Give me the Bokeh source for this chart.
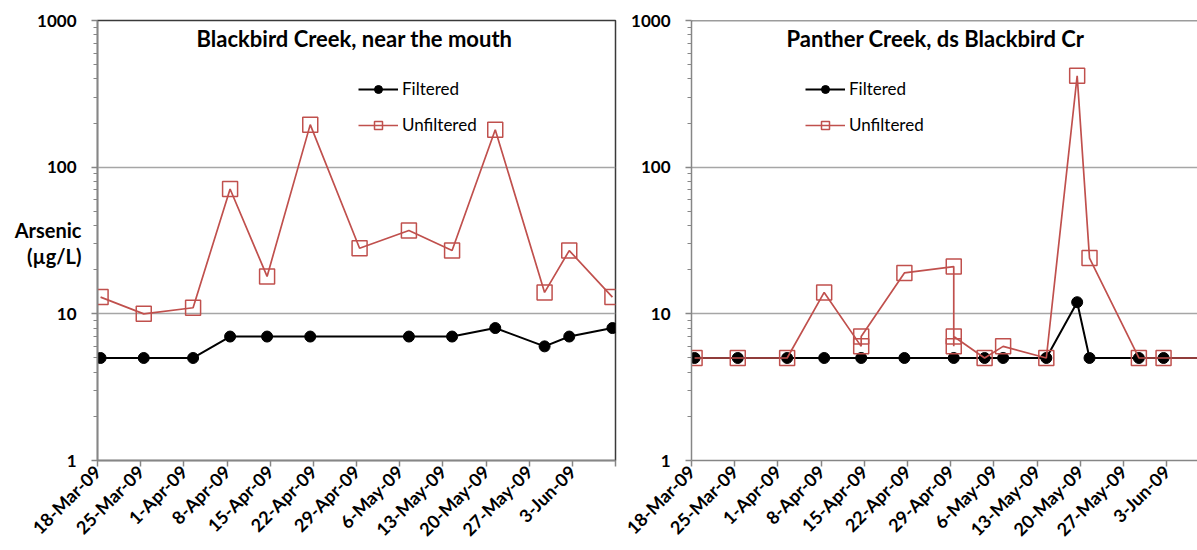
import math
import pandas as pd
from bokeh.plotting import figure
from bokeh.layouts import row
from bokeh.models import (Range1d, FixedTicker, PrintfTickFormatter, Label, Legend,
                          LegendItem, Span, LogAxis)
from bokeh.embed import file_html
from bokeh.resources import INLINE

# ---------------- data ----------------
bb_title = "Blackbird Creek, near the mouth"
pc_title = "Panther Creek, ds Blackbird Cr"

bb_filt_dates = ["2009-03-18", "2009-03-25", "2009-04-02", "2009-04-08", "2009-04-14",
                 "2009-04-21", "2009-05-07", "2009-05-14", "2009-05-21", "2009-05-29",
                 "2009-06-02", "2009-06-09"]
bb_filt = [5, 5, 5, 7, 7, 7, 7, 7, 8, 6, 7, 8]

bb_unf_dates = ["2009-03-18", "2009-03-25", "2009-04-02", "2009-04-08", "2009-04-14",
                "2009-04-21", "2009-04-29", "2009-05-07", "2009-05-14", "2009-05-21",
                "2009-05-29", "2009-06-02", "2009-06-09"]
bb_unf = [13, 10, 11, 71, 18, 195, 28, 37, 27, 180, 14, 27, 13]

pc_filt_dates = ["2009-03-18", "2009-03-25", "2009-04-02", "2009-04-08", "2009-04-14",
                 "2009-04-21", "2009-04-29", "2009-05-04", "2009-05-07", "2009-05-14",
                 "2009-05-19", "2009-05-21", "2009-05-29", "2009-06-02", "2009-06-09"]
pc_filt = [5, 5, 5, 5, 5, 5, 5, 5, 5, 5, 12, 5, 5, 5, 5]

pc_unf_dates = ["2009-03-18", "2009-03-25", "2009-04-02", "2009-04-08", "2009-04-14",
                "2009-04-14", "2009-04-21", "2009-04-29", "2009-04-29", "2009-04-29",
                "2009-05-04", "2009-05-07", "2009-05-14", "2009-05-19", "2009-05-21",
                "2009-05-29", "2009-06-02", "2009-06-09"]
pc_unf = [5, 5, 5, 14, 6, 7, 19, 21, 6, 7, 5, 6, 5, 420, 24, 5, 5, 5]

tick_dates = ["2009-03-18", "2009-03-25", "2009-04-01", "2009-04-08", "2009-04-15",
              "2009-04-22", "2009-04-29", "2009-05-06", "2009-05-13", "2009-05-20",
              "2009-05-27", "2009-06-03", "2009-06-10"]
tick_labels = ["18-Mar-09", "25-Mar-09", "1-Apr-09", "8-Apr-09", "15-Apr-09",
               "22-Apr-09", "29-Apr-09", "6-May-09", "13-May-09", "20-May-09",
               "27-May-09", "3-Jun-09", ""]

y_ticks = [1, 10, 100, 1000]
series_names = ["Filtered", "Unfiltered"]
y_label_lines = ["Arsenic", "(\u00b5g/L)"]
# heights (in axis units) at which the two lines of the y label sit
y_label_at = [37.1, 24.6]

# ---------------- style ----------------
FONT = "Lato"
RED = "#C0504D"
AXIS_GREY = "#868686"
GRID_GREY = "#A6A6A6"
BORDER = "#3A3A3A"


def to_x(dates):
    # Excel date axis: points sit in the middle of the day
    return pd.to_datetime(dates) + pd.Timedelta(hours=12)


def ms(d):
    return pd.Timestamp(d).timestamp() * 1000.0


def make_fig(width, left_border, right_border, x_end, title, fd, fv, ud, uv,
             title_x, legend_x, outline):
    p = figure(width=width, height=550, x_axis_type="datetime", y_axis_type="log",
               x_range=Range1d(pd.Timestamp("2009-03-18"), pd.Timestamp(x_end)),
               y_range=Range1d(1, 1000),
               output_backend="svg", toolbar_location=None,
               min_border_left=left_border, min_border_right=right_border,
               min_border_top=20, min_border_bottom=88,
               background_fill_color="white", border_fill_color="white")
    p.outline_line_color = BORDER if outline else None
    p.outline_line_width = 1.5

    # x axis
    tvals = [ms(d) for d in tick_dates]
    p.xaxis.ticker = FixedTicker(ticks=tvals)
    p.xaxis.major_label_overrides = {t: lab for t, lab in zip(tvals, tick_labels)}
    p.xaxis.major_label_orientation = math.pi / 4
    p.xgrid.visible = False

    # y axis
    minor = [m * 10 ** e for e in range(3) for m in range(2, 10)]
    p.yaxis.ticker = FixedTicker(ticks=y_ticks, minor_ticks=minor)
    p.yaxis.formatter = PrintfTickFormatter(format="%d")
    p.ygrid.ticker = FixedTicker(ticks=y_ticks)
    p.ygrid.grid_line_color = GRID_GREY
    p.ygrid.grid_line_width = 1.5

    for ax in (p.xaxis[0], p.yaxis[0]):
        ax.axis_line_color = AXIS_GREY
        ax.axis_line_width = 1.5
        ax.major_tick_line_color = AXIS_GREY
        ax.major_tick_line_width = 1.5
        ax.minor_tick_line_color = AXIS_GREY
        ax.major_tick_in = 0
        ax.major_tick_out = 6
        ax.minor_tick_in = 0
        ax.minor_tick_out = 4
        ax.major_label_text_font = FONT
        ax.major_label_text_font_style = "bold"
        ax.major_label_text_color = "black"
    p.yaxis.major_label_text_font_size = "17px"
    p.xaxis.major_label_text_font_size = "18px"
    p.yaxis.major_label_standoff = 15
    p.xaxis.major_label_standoff = 2

    if not outline:
        p.add_layout(Span(location=1000, dimension="width", line_color=BORDER,
                          line_width=1.5))

    # series
    fx = to_x(fd)
    ux = to_x(ud)
    r1 = p.line(fx, fv, line_color="black", line_width=2)
    r2 = p.scatter(fx, fv, marker="circle", size=11, fill_color="black",
                   line_color="black")
    r3 = p.line(ux, uv, line_color=RED, line_width=1.7)
    r4 = p.scatter(ux, uv, marker="square", size=15, fill_color=None,
                   line_color=RED, line_width=1.5)

    legend = Legend(items=[LegendItem(label=series_names[0], renderers=[r1, r2]),
                           LegendItem(label=series_names[1], renderers=[r3, r4])],
                    location=(legend_x, 325), border_line_color=None,
                    background_fill_alpha=0, label_text_font=FONT,
                    label_text_font_size="17px", label_text_color="black",
                    glyph_width=40, glyph_height=20,
                    label_height=20, spacing=15, padding=5, margin=0,
                    label_standoff=4)
    p.add_layout(legend, "center")

    p.add_layout(Label(x=title_x, y=422, x_units="screen", y_units="screen",
                       text=title, text_align="center", text_baseline="middle",
                       text_font=FONT, text_font_style="bold",
                       text_font_size="22px", text_color="black"))
    return p


left = make_fig(620, 97, 5, "2009-06-10", bb_title, bb_filt_dates, bb_filt,
                bb_unf_dates, bb_unf, 257, 261, True)

# y-axis title, drawn horizontally in two lines like the original
ylab = LogAxis(ticker=FixedTicker(ticks=y_label_at),
               major_label_overrides={v: t for v, t in zip(y_label_at, y_label_lines)},
               axis_line_color=None, major_tick_line_color=None,
               minor_tick_line_color=None, major_label_standoff=-53,
               major_label_text_font=FONT, major_label_text_font_style="bold",
               major_label_text_font_size="20px", major_label_text_color="black")
left.add_layout(ylab, "left")

right = make_fig(577, 71, 0, "2009-06-08", pc_title, pc_filt_dates, pc_filt,
                 pc_unf_dates, pc_unf, 244, 114, False)

layout = row(left, right, spacing=0)
open("out.html", "w").write(file_html(layout, INLINE))
